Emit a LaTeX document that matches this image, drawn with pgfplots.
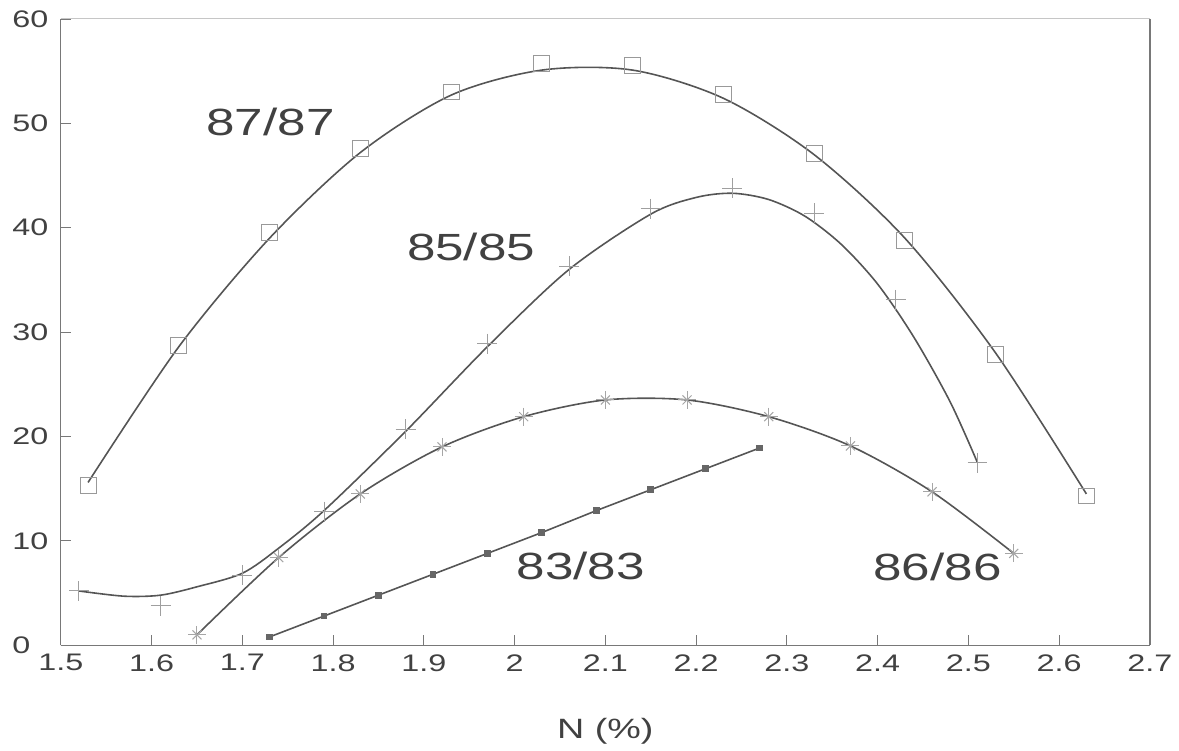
\documentclass[border=0pt]{standalone}
\usepackage{fontspec}
\setmainfont{Liberation Sans}[FakeStretch=1.35]
\usepackage{pgfplots}
\pgfplotsset{compat=1.18}
\definecolor{ink}{RGB}{85,85,85}
\definecolor{txt}{RGB}{65,65,65}
\definecolor{axc}{RGB}{120,120,120}
\begin{document}
\begin{tikzpicture}
\begin{axis}[
  scale only axis,
  width=546pt, height=314pt,
  xmin=1.5, xmax=2.7, ymin=0, ymax=60,
  axis lines*=left,
  axis line style={axc, line width=0.6pt, -},
  xtick={1.5,1.6,1.7,1.8,1.9,2,2.1,2.2,2.3,2.4,2.5,2.6,2.7},
  ytick={0,10,20,30,40,50,60},
  tick align=inside,
  major tick length=5pt,
  tick style={axc, line width=0.6pt},
  /pgf/number format/assume math mode=true,
  ticklabel style={font=\fontsize{12}{14}\selectfont, text=txt},
  yticklabel style={anchor=west, inner sep=0pt, xshift=-24.5pt},
  xticklabel style={yshift=-1pt},
  xlabel={N (\%)},
  xlabel style={font=\fontsize{14}{16}\selectfont, text=txt, at={(axis description cs:0.5,0)}, anchor=center, yshift=-43pt},
  clip=false,
]
\draw[gray!45, line width=0.5pt] (axis cs:1.5,60) -- (axis cs:2.7,60);
\draw[axc, line width=0.6pt] (axis cs:2.7,60) -- (axis cs:2.7,0);

% 87/87 fitted curve
\addplot[ink, line width=0.8pt, smooth, no marks] coordinates {
(1.53,15.6)(1.63,28.6)(1.73,39.0)(1.83,47.2)(1.93,52.7)(2.03,55.1)(2.13,55.1)(2.23,52.4)(2.33,47.0)(2.43,39.0)(2.53,28.0)(2.63,14.5)};
\addplot[only marks, mark=square, mark size=4pt, mark options={gray!80, line width=0.5pt}] coordinates {
(1.53,15.3)(1.63,28.7)(1.73,39.5)(1.83,47.6)(1.93,53.0)(2.03,55.7)(2.13,55.5)(2.23,52.8)(2.33,47.1)(2.43,38.8)(2.53,27.9)(2.63,14.3)};

% 85/85 fitted curve
\addplot[ink, line width=0.8pt, smooth, no marks] coordinates {
(1.52,5.2)(1.57,4.7)(1.61,4.8)(1.65,5.6)(1.70,6.9)(1.74,9.3)(1.79,12.9)(1.88,20.5)(1.97,28.6)(2.06,36.0)(2.15,41.3)(2.20,42.9)(2.24,43.3)(2.28,42.7)(2.32,41.1)(2.36,38.4)(2.40,34.6)(2.44,29.5)(2.48,23.3)(2.51,17.5)};
\addplot[only marks, mark=+, mark size=5pt, mark options={gray!75, line width=0.5pt}] coordinates {
(1.52,5.2)(1.61,3.8)(1.70,6.7)(1.79,12.8)(1.88,20.7)(1.97,28.9)(2.06,36.3)(2.15,41.8)(2.24,43.8)(2.33,41.4)(2.42,33.1)(2.51,17.5)};

% 86/86 fitted curve
\addplot[ink, line width=0.8pt, smooth, no marks] coordinates {
(1.65,1.0)(1.74,8.4)(1.83,14.5)(1.92,19.0)(2.01,21.9)(2.10,23.5)(2.19,23.5)(2.28,21.9)(2.37,19.1)(2.46,14.7)(2.55,8.8)};
\addplot[only marks, mark=+, mark size=4.5pt, mark options={gray!70, line width=0.5pt}] coordinates {
(1.65,1.0)(1.74,8.4)(1.83,14.5)(1.92,19.0)(2.01,21.9)(2.10,23.5)(2.19,23.5)(2.28,21.9)(2.37,19.1)(2.46,14.7)(2.55,8.8)};
\addplot[only marks, mark=x, mark size=3.2pt, mark options={gray!70, line width=0.5pt}] coordinates {
(1.65,1.0)(1.74,8.4)(1.83,14.5)(1.92,19.0)(2.01,21.9)(2.10,23.5)(2.19,23.5)(2.28,21.9)(2.37,19.1)(2.46,14.7)(2.55,8.8)};

% 83/83 line
\addplot[ink, line width=0.8pt, mark=square*, mark size=1.3pt, mark options={fill=black!60, draw=black!60}] coordinates {
(1.73,0.8)(1.79,2.8)(1.85,4.8)(1.91,6.8)(1.97,8.8)(2.03,10.8)(2.09,12.9)(2.15,14.9)(2.21,16.9)(2.27,18.9)};

\node[text=txt, font=\fontsize{19}{22}\selectfont] at (axis cs:1.731,50.1) {87/87};
\node[text=txt, font=\fontsize{19}{22}\selectfont] at (axis cs:1.952,38.2) {85/85};
\node[text=txt, font=\fontsize{19}{22}\selectfont] at (axis cs:2.073,7.6) {83/83};
\node[text=txt, font=\fontsize{19}{22}\selectfont] at (axis cs:2.466,7.5) {86/86};
\end{axis}
\path (-30.5pt,-50pt) rectangle (559pt,323.5pt);
\end{tikzpicture}
\end{document}
